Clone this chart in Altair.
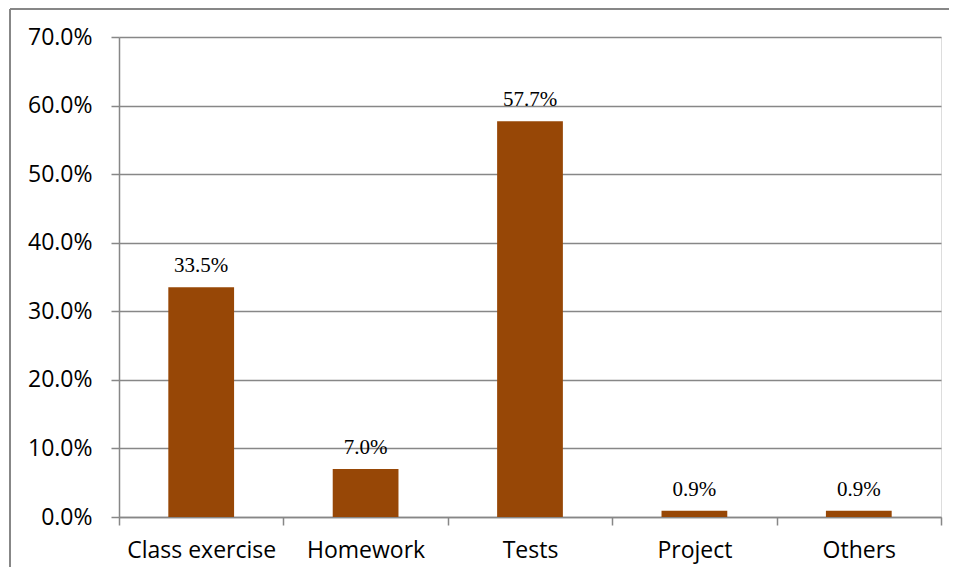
import altair as alt
import pandas as pd

categories = ["Class exercise", "Homework", "Tests", "Project", "Others"]
values = [0.335, 0.070, 0.577, 0.009, 0.009]

df = pd.DataFrame({"cat": categories, "val": values})

W, H = 822, 480
GRAY = "#878787"

x_enc = alt.X("cat:N", sort=categories, title=None,
              scale=alt.Scale(paddingInner=0, paddingOuter=0),
              axis=alt.Axis(labelAngle=0, tickBand="extent", labelFont="Open Sans",
                            labelFontSize=23, labelColor="#000000", labelPadding=14,
                            domainColor=GRAY, domainWidth=1.5, tickColor=GRAY,
                            tickWidth=1.5, tickSize=8, grid=False))
y_enc = alt.Y("val:Q", title=None,
              scale=alt.Scale(domain=[0, 0.7], nice=False),
              axis=alt.Axis(format=".1%", values=[0, 0.1, 0.2, 0.3, 0.4, 0.5, 0.6, 0.7],
                            labelFont="Open Sans", labelFontSize=23, labelColor="#000000",
                            labelPadding=19, domainColor=GRAY, domainWidth=1.5,
                            tickColor=GRAY, tickWidth=1.5, tickSize=8,
                            grid=True, gridColor=GRAY, gridWidth=1.5))

bars = alt.Chart(df).mark_bar(color="#974706", width=alt.RelativeBandSize(0.4)).encode(
    x=x_enc, y=y_enc)
labels = alt.Chart(df).mark_text(font="Liberation Serif", fontSize=21, color="#000000",
                                 baseline="alphabetic", dy=-15).encode(
    x=alt.X("cat:N", sort=categories), y="val:Q",
    text=alt.Text("val:Q", format=".1%"))

frame = pd.DataFrame({"a": [0]})
left_border = alt.Chart(frame).mark_rule(color=GRAY, strokeWidth=2, clip=False).encode(
    x=alt.value(-109), y=alt.value(-28), y2=alt.value(H + 60))
top_border = alt.Chart(frame).mark_rule(color=GRAY, strokeWidth=2, clip=False).encode(
    x=alt.value(-109), x2=alt.value(W + 12), y=alt.value(-28))

chart = alt.layer(bars, labels, left_border, top_border).properties(
    width=W, height=H,
    autosize=alt.AutoSizeParams(type="none"),
    padding={"left": 111, "top": 29, "right": 8, "bottom": 50},
).configure_view(stroke=None).configure(background="#ffffff")

chart.save("out.html", embed_options={"renderer": "svg", "actions": False})
